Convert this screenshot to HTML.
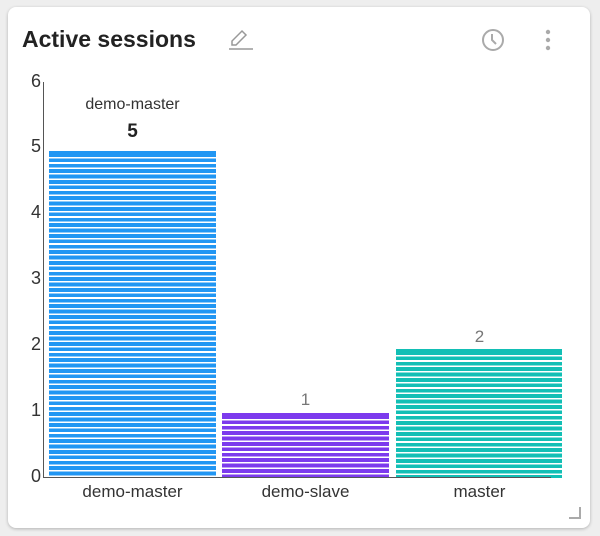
<!DOCTYPE html>
<html><head><style>
body{margin:0;width:600px;height:536px;background:#eeeeee;font-family:"Liberation Sans",sans-serif;position:relative;overflow:hidden}
.card{position:absolute;left:8px;top:7px;width:582px;height:521px;background:#fff;border-radius:8px;box-shadow:0 1px 3px rgba(0,0,0,.25)}
.t{position:absolute;left:22px;top:26px;font-size:23px;font-weight:bold;color:#222}
.a{position:absolute;color:#333;font-size:18px}
.bar{position:absolute;border-top:2px solid}
.lbl{position:absolute;font-size:17px;color:#333;text-align:center;width:167px}
</style></head><body>
<div class="card"></div>
<div class="t">Active sessions</div>
<svg style="position:absolute;left:228px;top:28px" width="26" height="24"><path d="M4 17 L4 13 L14 3 L18 7 L8 17 Z" fill="none" stroke="#999" stroke-width="1.5"/><line x1="1" y1="21" x2="25" y2="21" stroke="#999" stroke-width="1.6"/></svg>
<svg style="position:absolute;left:480px;top:27px" width="26" height="26"><circle cx="13" cy="13" r="10" fill="none" stroke="#aaa" stroke-width="2"/><path d="M12 7 V13 L16 17" fill="none" stroke="#aaa" stroke-width="2"/></svg>
<svg style="position:absolute;left:543px;top:28px" width="10" height="24"><circle cx="5" cy="4" r="2.2" fill="#aaa"/><circle cx="5" cy="12" r="2.2" fill="#aaa"/><circle cx="5" cy="20" r="2.2" fill="#aaa"/></svg>
<div class="a" style="left:31px;top:71px">6</div>
<div class="a" style="left:31px;top:136px">5</div>
<div class="a" style="left:31px;top:202px">4</div>
<div class="a" style="left:31px;top:268px">3</div>
<div class="a" style="left:31px;top:334px">2</div>
<div class="a" style="left:31px;top:400px">1</div>
<div class="a" style="left:31px;top:466px">0</div>
<div class="bar" style="left:49px;top:151px;width:167px;height:325px;border-color:#2196f3;background:repeating-linear-gradient(#2196f3 0 3.8px,#fff 3.8px 5.4px)"></div>
<div class="bar" style="left:222px;top:413px;width:167px;height:63px;border-color:#7c3aed;background:repeating-linear-gradient(#7c3aed 0 3.8px,#fff 3.8px 5.4px)"></div>
<div class="bar" style="left:396px;top:349px;width:166px;height:127px;border-color:#12bfb5;background:repeating-linear-gradient(#12bfb5 0 3.8px,#fff 3.8px 5.4px)"></div>
<div style="position:absolute;left:43px;top:82px;width:1px;height:396px;background:#555"></div>
<div style="position:absolute;left:43px;top:477px;width:508px;height:1px;background:#555"></div>
<div class="lbl" style="left:49px;top:96px;font-size:16px">demo-master</div>
<div class="lbl" style="left:49px;top:121px;font-weight:bold;font-size:19px;color:#222">5</div>
<div class="lbl" style="left:222px;top:390px;color:#777">1</div>
<div class="lbl" style="left:396px;top:327px;color:#777">2</div>
<div class="lbl" style="left:49px;top:482px">demo-master</div>
<div class="lbl" style="left:222px;top:482px">demo-slave</div>
<div class="lbl" style="left:396px;top:482px">master</div>
<svg style="position:absolute;left:568px;top:506px" width="14" height="14"><path d="M12 1 V12 H1" fill="none" stroke="#aaa" stroke-width="2"/></svg>
</body></html>
